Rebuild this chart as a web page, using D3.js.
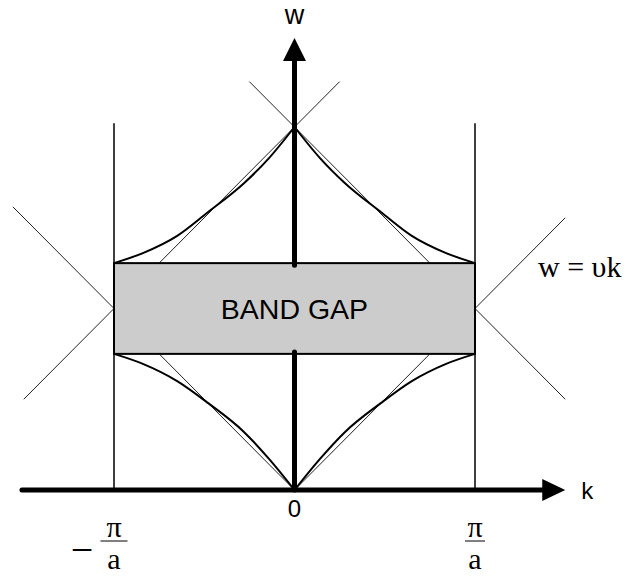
<!DOCTYPE html>
<html>
<head>
<meta charset="utf-8">
<script src="https://cdn.jsdelivr.net/npm/d3@7"></script>
<style>
  html, body { margin: 0; padding: 0; background: #fff; }
  svg { display: block; }
</style>
</head>
<body>
<svg id="chart" width="628" height="577"></svg>
<script>
// Wave vector k in units of pi/a, frequency w in units of v*pi/a.
const zoneEdges = [-1, 1];

// Dispersion of the two bands for k >= 0 (mirrored for k < 0).
const bandK      = [0, 0.14, 0.28, 0.48, 0.65, 0.84, 1.0];
const lowerBandW = [0, 0.17, 0.32, 0.48, 0.60, 0.695, 0.75];
const upperBandW = [2, 1.83, 1.69, 1.53, 1.40, 1.305, 1.25];

// Forbidden frequency range.
const gapW = [0.75, 1.25];

// Free-wave lines w = v|k - G| for reciprocal vectors G, with their k extents.
const lineG     = [0, -2, 2];
const lineKFrom = [-1.56, -1.5, -0.25];
const lineKTo   = [1.5, 0.25, 1.5];

// Axis extents.
const kAxis = [-1.51, 1.5];
const wAxis = [0, 2.49];

const svg = d3.select("#chart");
const x = d3.scaleLinear().domain([-1, 1]).range([114, 475]);
const y = d3.scaleLinear().domain([0, 2]).range([490, 127]);

const line = d3.line().x(d => x(d[0])).y(d => y(d[1]));

// Free-wave lines
lineG.forEach((G, i) => {
  const pts = [lineKFrom[i], lineKTo[i]];
  if (G > lineKFrom[i] && G < lineKTo[i]) pts.splice(1, 0, G);
  svg.append("path")
    .attr("d", line(pts.map(k => [k, Math.abs(k - G)])))
    .attr("fill", "none")
    .attr("stroke", "#222")
    .attr("stroke-width", 1);
});

// Band curves, one branch per side of k = 0
const curve = d3.line().x(d => x(d[0])).y(d => y(d[1])).curve(d3.curveMonotoneX);
[lowerBandW, upperBandW].forEach(ws => {
  [1, -1].forEach(s => {
    const pts = bandK.map((k, i) => [s * k, ws[i]]);
    if (s < 0) pts.reverse();
    svg.append("path")
      .attr("d", curve(pts))
      .attr("fill", "none")
      .attr("stroke", "#000")
      .attr("stroke-width", 2);
  });
});

// Brillouin zone boundaries
svg.selectAll("line.zone").data(zoneEdges).join("line")
  .attr("class", "zone")
  .attr("x1", d => x(d)).attr("x2", d => x(d))
  .attr("y1", y(0)).attr("y2", y(2.02))
  .attr("stroke", "#000").attr("stroke-width", 1.5);

// Band gap
svg.append("rect")
  .attr("x", x(zoneEdges[0]))
  .attr("y", y(gapW[1]))
  .attr("width", x(zoneEdges[1]) - x(zoneEdges[0]))
  .attr("height", y(gapW[0]) - y(gapW[1]))
  .attr("fill", "#cccccc")
  .attr("stroke", "#000")
  .attr("stroke-width", 2);

svg.append("text")
  .attr("x", x(0)).attr("y", (y(gapW[0]) + y(gapW[1])) / 2 + 10)
  .attr("text-anchor", "middle")
  .attr("font-family", "Liberation Sans, Arial, sans-serif")
  .attr("font-size", 28.5)
  .text("BAND GAP");

// k axis
svg.append("line")
  .attr("x1", x(kAxis[0])).attr("x2", x(kAxis[1]) - 20)
  .attr("y1", y(0)).attr("y2", y(0))
  .attr("stroke", "#000").attr("stroke-width", 5).attr("stroke-linecap", "round");
svg.append("path")
  .attr("d", `M${x(kAxis[1])},${y(0)} L${x(kAxis[1]) - 23},${y(0) - 11} L${x(kAxis[1]) - 23},${y(0) + 11} Z`)
  .attr("fill", "#000");

// w axis, interrupted by the gap
svg.append("line")
  .attr("x1", x(0)).attr("x2", x(0))
  .attr("y1", y(0)).attr("y2", y(gapW[0]) - 2)
  .attr("stroke", "#000").attr("stroke-width", 5).attr("stroke-linecap", "round");
svg.append("line")
  .attr("x1", x(0)).attr("x2", x(0))
  .attr("y1", y(gapW[1]) + 2).attr("y2", y(wAxis[1]) + 20)
  .attr("stroke", "#000").attr("stroke-width", 5).attr("stroke-linecap", "round");
svg.append("path")
  .attr("d", `M${x(0)},${y(wAxis[1])} L${x(0) - 11.5},${y(wAxis[1]) + 23} L${x(0) + 11.5},${y(wAxis[1]) + 23} Z`)
  .attr("fill", "#000");

// Axis labels
const sans = "Liberation Sans, Arial, sans-serif";
const serif = "Liberation Serif, Times New Roman, serif";
svg.append("text").attr("x", x(0)).attr("y", 24).attr("text-anchor", "middle")
  .attr("font-family", sans).attr("font-size", 27).text("w");
svg.append("text").attr("x", x(kAxis[1]) + 16).attr("y", 499).attr("text-anchor", "start")
  .attr("font-family", sans).attr("font-size", 24).text("k");
svg.append("text").attr("x", x(0)).attr("y", 517).attr("text-anchor", "middle")
  .attr("font-family", sans).attr("font-size", 24).text("0");

// Zone-edge labels -pi/a and pi/a
const edgeLabels = [
  { k: zoneEdges[0], sign: "\u2212", barHalf: 13.5 },
  { k: zoneEdges[1], sign: "", barHalf: 10 }
];
edgeLabels.forEach(l => {
  const cx = x(l.k);
  const g = svg.append("g");
  g.append("text").attr("x", cx).attr("y", 537).attr("text-anchor", "middle")
    .attr("font-family", serif).attr("font-size", 30).text("\u03C0");
  g.append("line").attr("x1", cx - l.barHalf).attr("x2", cx + l.barHalf)
    .attr("y1", 541).attr("y2", 541).attr("stroke", "#000").attr("stroke-width", 1);
  g.append("text").attr("x", cx).attr("y", 569).attr("text-anchor", "middle")
    .attr("font-family", serif).attr("font-size", 30).text("a");
  if (l.sign) {
    g.append("text").attr("x", cx - 32).attr("y", 563).attr("text-anchor", "middle")
      .attr("font-family", serif).attr("font-size", 40).text(l.sign);
  }
});

// Free-wave dispersion label
svg.append("text").attr("x", 538).attr("y", 277).attr("text-anchor", "start")
  .attr("font-family", serif).attr("font-size", 30).text("w = \u03C5k");
</script>
</body>
</html>
